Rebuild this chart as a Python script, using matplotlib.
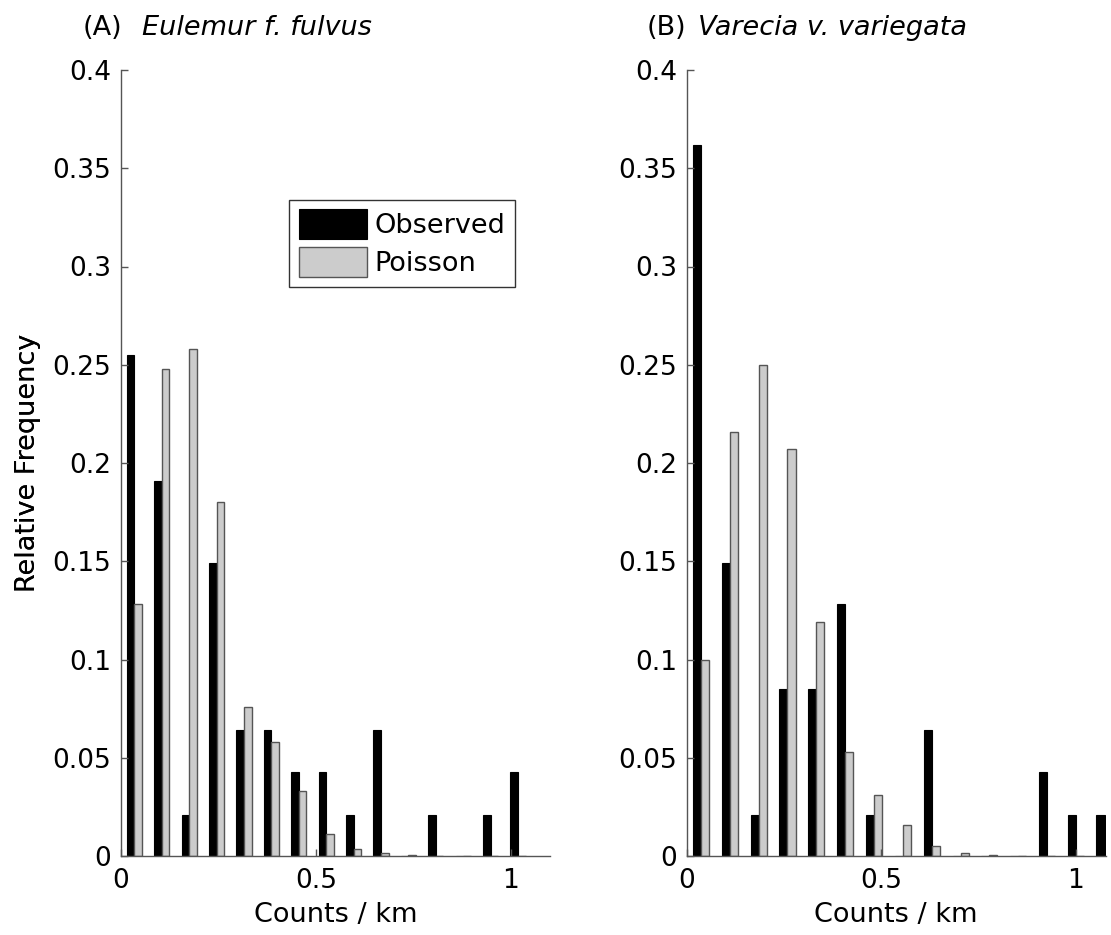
import numpy as np
import matplotlib.pyplot as plt

# bin centres (counts / km) for each species
centros_a = [0.035, 0.105, 0.176, 0.246, 0.316, 0.386, 0.456, 0.527, 0.597, 0.667, 0.737, 0.807, 0.878, 0.948, 1.018]
centros_b = [0.037, 0.111, 0.185, 0.259, 0.333, 0.407, 0.481, 0.556, 0.630, 0.704, 0.778, 0.852, 0.926, 1.000, 1.074]

# relative frequencies
obs_a = [0.255, 0.191, 0.021, 0.149, 0.064, 0.064, 0.043, 0.043, 0.021, 0.064, 0.0, 0.021, 0.0, 0.021, 0.043]
poi_a = [0.128, 0.248, 0.258, 0.180, 0.076, 0.058, 0.033, 0.011, 0.0037, 0.0017, 0.0005, 0.0002, 0.0001, 0.0, 0.0]
obs_b = [0.362, 0.149, 0.021, 0.085, 0.085, 0.128, 0.021, 0.0, 0.064, 0.0, 0.0, 0.0, 0.043, 0.021, 0.021]
poi_b = [0.0995, 0.216, 0.250, 0.207, 0.119, 0.053, 0.031, 0.016, 0.0053, 0.0017, 0.0005, 0.0001, 0.0, 0.0, 0.0]

titulos = [("(A)", "Eulemur f. fulvus"), ("(B)", "Varecia v. variegata")]
yticks = [0, 0.05, 0.1, 0.15, 0.2, 0.25, 0.3, 0.35, 0.4]
ytick_labels = ["0", "0.05", "0.1", "0.15", "0.2", "0.25", "0.3", "0.35", "0.4"]
xticks = [0, 0.5, 1]
xtick_labels = ["0", "0.5", "1"]

plt.rcParams['font.family'] = 'DejaVu Sans'
fig = plt.figure(figsize=(11.11, 9.35), dpi=100)
W, H = 1111, 935

# axes boxes in pixels: left, right, bottom, top
caixas = [(120.7, 550, 856, 70), (686.7, 1105.7, 856, 70)]
xlims = [1.10, 1.077]
dados = [(centros_a, obs_a, poi_a), (centros_b, obs_b, poi_b)]
titulo_x = [(83, 142), (647, 698)]

for i in range(2):
    l, r, b, t = caixas[i]
    ax = fig.add_axes([l / W, 1 - b / H, (r - l) / W, (b - t) / H])
    cx, obs, poi = dados[i]
    cx = np.array(cx)
    passo = cx[1] - cx[0]
    w = 0.28 * passo
    b1 = ax.bar(cx - w / 2, obs, width=w, color='black', edgecolor='black', linewidth=0.8, label='Observed')
    b2 = ax.bar(cx + w / 2, poi, width=w, color='#cccccc', edgecolor='#555555', linewidth=1.0, label='Poisson')
    ax.set_xlim(0, xlims[i])
    ax.set_ylim(0, 0.4)
    ax.set_yticks(yticks)
    ax.set_yticklabels(ytick_labels)
    ax.set_xticks(xticks)
    ax.set_xticklabels(xtick_labels)
    ax.spines['top'].set_visible(False)
    ax.spines['right'].set_visible(False)
    for s in ['left', 'bottom']:
        ax.spines[s].set_color('#555555')
        ax.spines[s].set_linewidth(1.0)
    ax.tick_params(direction='in', length=5, width=1, color='#555555', labelsize=19, pad=7)
    ax.tick_params(axis='x', pad=9)
    ax.set_ylabel('Relative Frequency', fontsize=19.5)
    ax.set_xlabel('Counts / km', fontsize=19.5)
    ax.yaxis.set_label_coords((41 - l) / (r - l), 0.5)
    ax.xaxis.set_label_coords(0.5, (b - 902) / (b - t))

    fig.text(titulo_x[i][0] / W, 1 - 35 / H, titulos[i][0], fontsize=19.5, va='baseline', ha='left')
    fig.text(titulo_x[i][1] / W, 1 - 35 / H, titulos[i][1], fontsize=19.5, style='italic', va='baseline', ha='left')

    if i == 0:
        leg = ax.legend(handles=[b1, b2], loc='upper right', bbox_to_anchor=(515 / W, 1 - 200 / H),
                        bbox_transform=fig.transFigure, borderaxespad=0, fontsize=19.5,
                        handlelength=2.5, handleheight=1.3, handletextpad=0.3,
                        labelspacing=0.3, borderpad=0.35, fancybox=False, framealpha=1)
        leg.get_frame().set_edgecolor('#333333')
        leg.get_frame().set_linewidth(1.0)

fig.savefig('out.png', dpi=100)
